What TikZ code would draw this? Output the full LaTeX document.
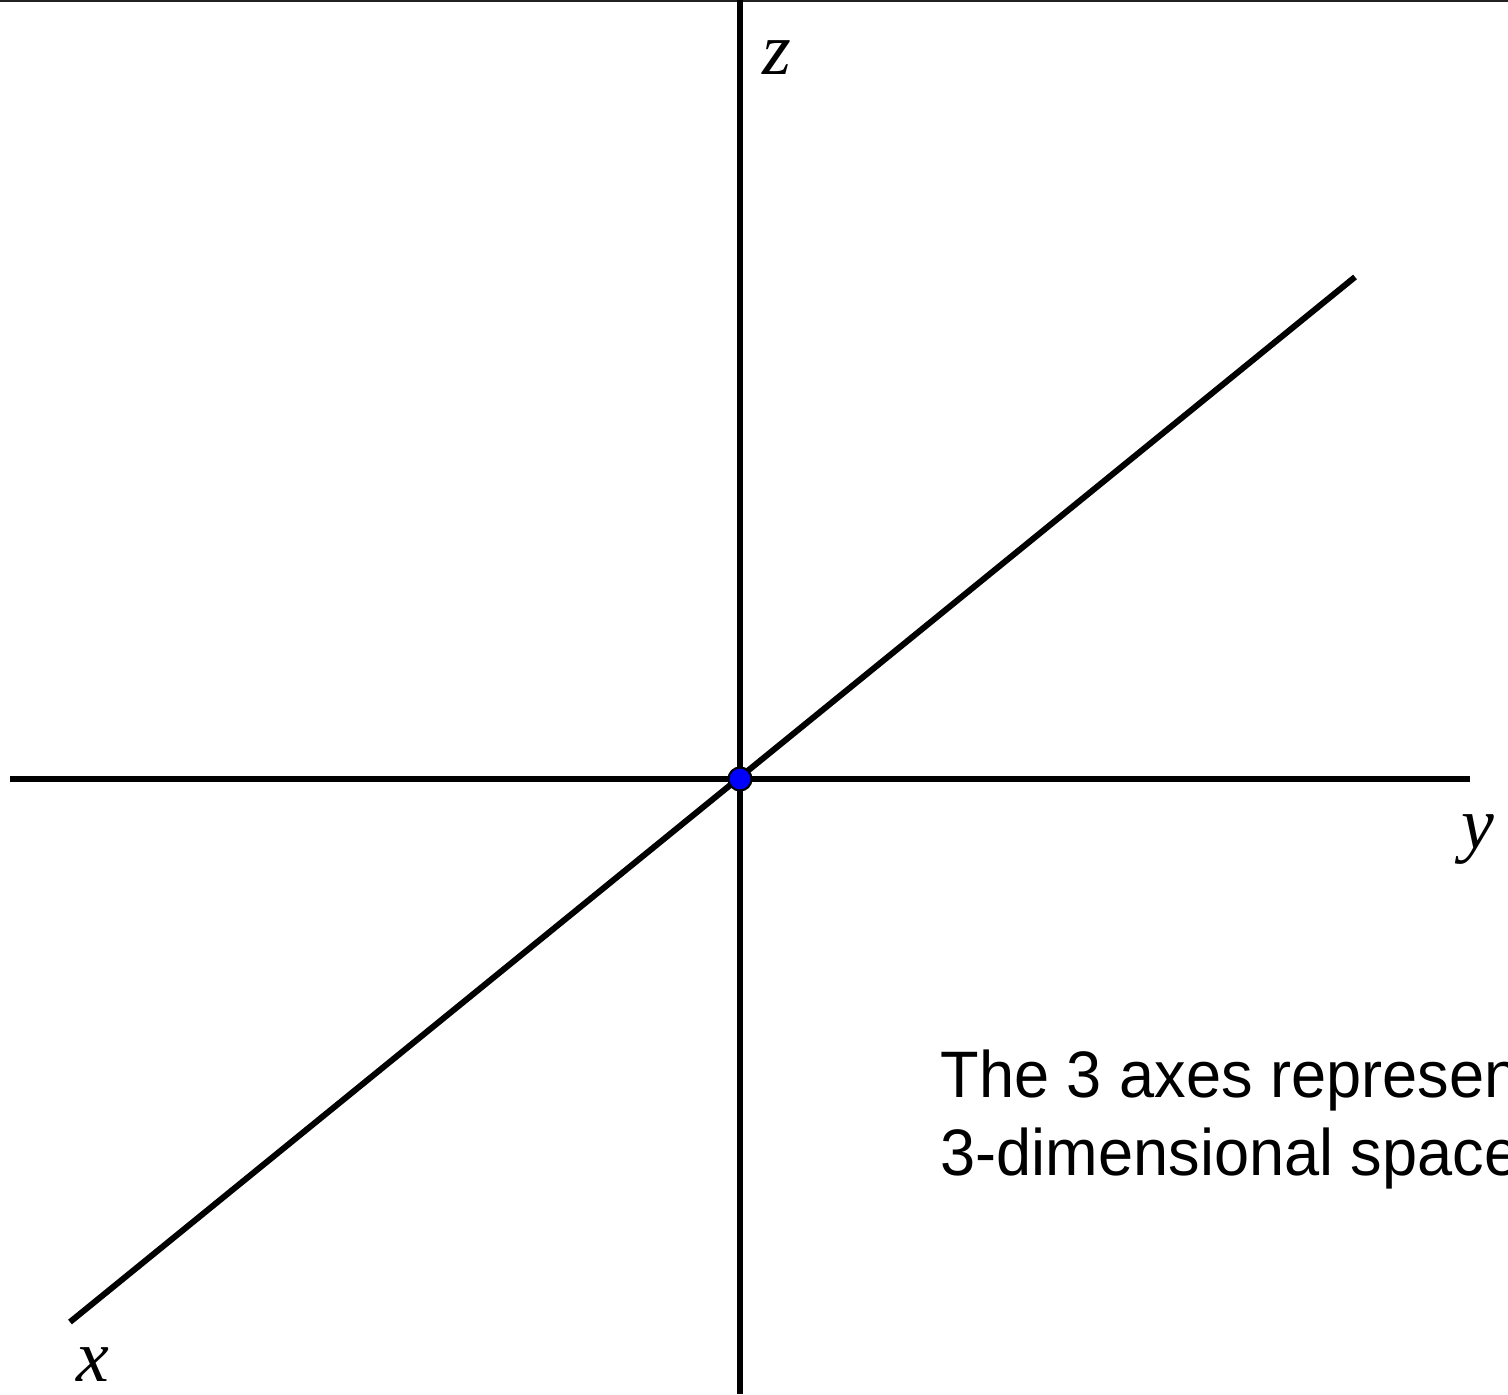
\documentclass[tikz,border=0pt]{standalone}
\usepackage{fontspec}
\setmainfont{Liberation Serif}
\setsansfont{Liberation Sans}
\usetikzlibrary{positioning}
\definecolor{frameline}{HTML}{222222}

\begin{document}
\begin{tikzpicture}[x=1cm,y=1cm]
\tikzstyle{axis}=[line width=0.06cm,draw=black]
\tikzstyle{lbl}=[inner sep=0pt,font=\fontsize{21}{25}\selectfont\itshape]
\tikzstyle{note}=[inner sep=0pt,anchor=base west,xscale=0.96,font=\sffamily\fontsize{18.7}{22}\selectfont]
\tikzstyle{dot}=[circle,draw=black,fill=blue,line width=0.6pt,minimum size=0.23cm,inner sep=0pt]
\useasboundingbox (0,0) rectangle (15.08,13.94);
\clip (0,0) rectangle (15.08,13.94);
\draw[frameline,line width=0.02cm] (0,13.93) -- (15.08,13.93);
\coordinate (ztop) at (7.40,13.94); \coordinate (zbot) at (7.40,0);
\coordinate (yleft) at (0.10,6.15); \coordinate (yright) at (14.70,6.15);
\coordinate (xfar) at (0.70,0.72); \coordinate (xnear) at (13.55,11.17);
\draw[axis] (zbot)--(ztop);
\draw[axis] (yleft)--(yright);
\draw[axis] (xfar)--(xnear);
\node[dot] (o) at (7.40,6.15) {};
\node[lbl] (zl) at (7.77,13.36) {z};
\node[lbl] (yl) at (14.78,5.54) {y};
\node[lbl] (xl) at (0.93,0.29) {x};
\node[note] (t1) at (9.40,2.97) {The 3 axes represent};
\node[note] (t2) at (9.40,2.19) {3-dimensional space};
\end{tikzpicture}
\end{document}
